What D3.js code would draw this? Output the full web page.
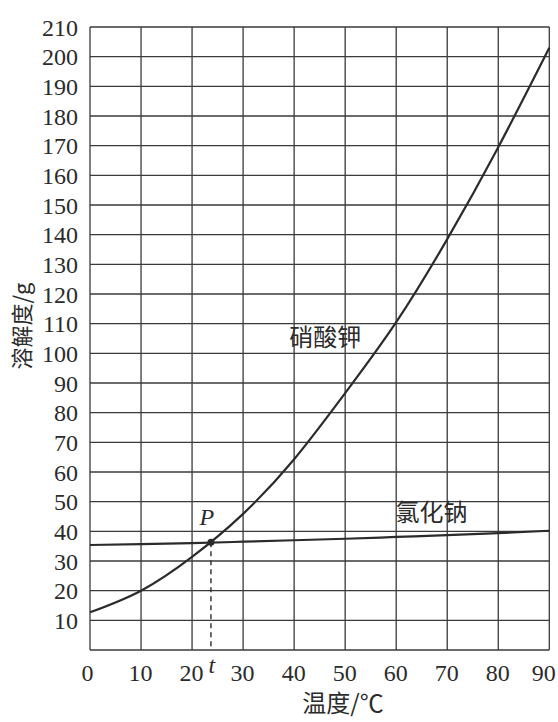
<!DOCTYPE html>
<html><head><meta charset="utf-8">
<script src="https://cdn.jsdelivr.net/npm/d3@7"></script>
<style>body{margin:0;background:#fff;}svg{display:block;}
.sf{font-family:'Liberation Serif';}
.cj{font-family:'Noto Sans CJK SC';}
</style>
</head><body>
<script>
const temps = [0,10,20,30,40,50,60,70,80,90];
const kno3 = [12.7,20.0,31.4,45.9,64.3,86.6,110.5,138.5,169.5,203];
const nacl = [35.4,35.7,36.0,36.5,37.0,37.5,38.1,38.7,39.4,40.2];
const yTicks = [10,20,30,40,50,60,70,80,90,100,110,120,130,140,150,160,170,180,190,200,210];
const xTicks = [0,10,20,30,40,50,60,70,80,90];
const pointP = {t:23.7, s:36.3};
const labels = {kno3:"硝酸钾", nacl:"氯化钠", x:"温度/℃", y:"溶解度/g", p:"P", t:"t"};

const W=558,H=722;
const svg=d3.select("body").append("svg").attr("width",W).attr("height",H);
const x=d3.scaleLinear().domain([0,90]).range([90,549.3]);
const y=d3.scaleLinear().domain([0,210]).range([650,27]);
const ink="#2b2b2b", grid="#3a3a3a";

// grid
const g=svg.append("g");
g.selectAll("line.v").data(xTicks).join("line").attr("class","v")
 .attr("x1",d=>x(d)).attr("x2",d=>x(d)).attr("y1",y(0)).attr("y2",y(210))
 .attr("stroke",grid).attr("stroke-width",1.3);
g.selectAll("line.h").data([0].concat(yTicks)).join("line").attr("class","h")
 .attr("x1",x(0)).attr("x2",x(90)).attr("y1",d=>y(d)).attr("y2",d=>y(d))
 .attr("stroke",grid).attr("stroke-width",1.3);

// axes labels
const ya=d3.axisLeft(y).tickValues(yTicks).tickSize(0).tickPadding(12);
const yg=svg.append("g").attr("transform",`translate(${x(0)},0)`).call(ya)
 .attr("font-family",null).attr("font-size",null).attr("class","sf");
yg.select(".domain").remove();
yg.selectAll("text").attr("class","sf").style("font-size","24px").attr("fill",ink).attr("dy","0.34em");
const xa=d3.axisBottom(x).tickValues(xTicks).tickSize(0).tickPadding(14);
const xg=svg.append("g").attr("transform",`translate(0,${y(0)})`).call(xa)
 .attr("font-family",null).attr("font-size",null).attr("class","sf");
xg.select(".domain").remove();
xg.selectAll("text").attr("class","sf").style("font-size","24px").attr("fill",ink)
 .attr("dx",d=>d===0?-3:(d===90?-6:-1));

// curves
const line=(vals)=>d3.line().x((d,i)=>x(temps[i])).y(d=>y(d)).curve(d3.curveNatural)(vals);
svg.append("path").attr("d",line(kno3)).attr("fill","none").attr("stroke",ink).attr("stroke-width",2.2);
svg.append("path").attr("d",line(nacl)).attr("fill","none").attr("stroke",ink).attr("stroke-width",2.2);

// dashed line and point
svg.append("line").attr("x1",x(pointP.t)).attr("x2",x(pointP.t)).attr("y1",y(pointP.s)).attr("y2",y(0))
 .attr("stroke",ink).attr("stroke-width",1.4).attr("stroke-dasharray","5,4");
svg.append("circle").attr("cx",x(pointP.t)).attr("cy",y(pointP.s)).attr("r",3.5).attr("fill",ink);
svg.append("text").attr("class","sf").attr("x",x(pointP.t)-4).attr("y",y(pointP.s)-17).attr("text-anchor","middle")
 .style("font-style","italic").style("font-size","24px").attr("fill",ink).text(labels.p);
svg.append("text").attr("class","sf").attr("x",x(pointP.t)+1).attr("y",y(0)+23).attr("text-anchor","middle")
 .style("font-style","italic").style("font-size","24px").attr("fill",ink).text(labels.t);

// series labels
svg.append("text").attr("class","cj").attr("x",x(46.1)).attr("y",y(102.5)).attr("text-anchor","middle")
 .style("font-size","24px").attr("fill",ink).text(labels.kno3);
svg.append("text").attr("class","cj").attr("x",x(66.9)).attr("y",y(43.4)).attr("text-anchor","middle")
 .style("font-size","24px").attr("fill",ink).text(labels.nacl);

// axis titles
svg.append("text").attr("class","cj").attr("x",343).attr("y",712).attr("text-anchor","middle")
 .style("font-size","24px").attr("fill",ink).text(labels.x);
svg.append("text").attr("class","cj").attr("transform","translate(30,326) rotate(-90)").attr("text-anchor","middle")
 .style("font-size","22px").attr("fill",ink).text(labels.y);
</script>
</body></html>
